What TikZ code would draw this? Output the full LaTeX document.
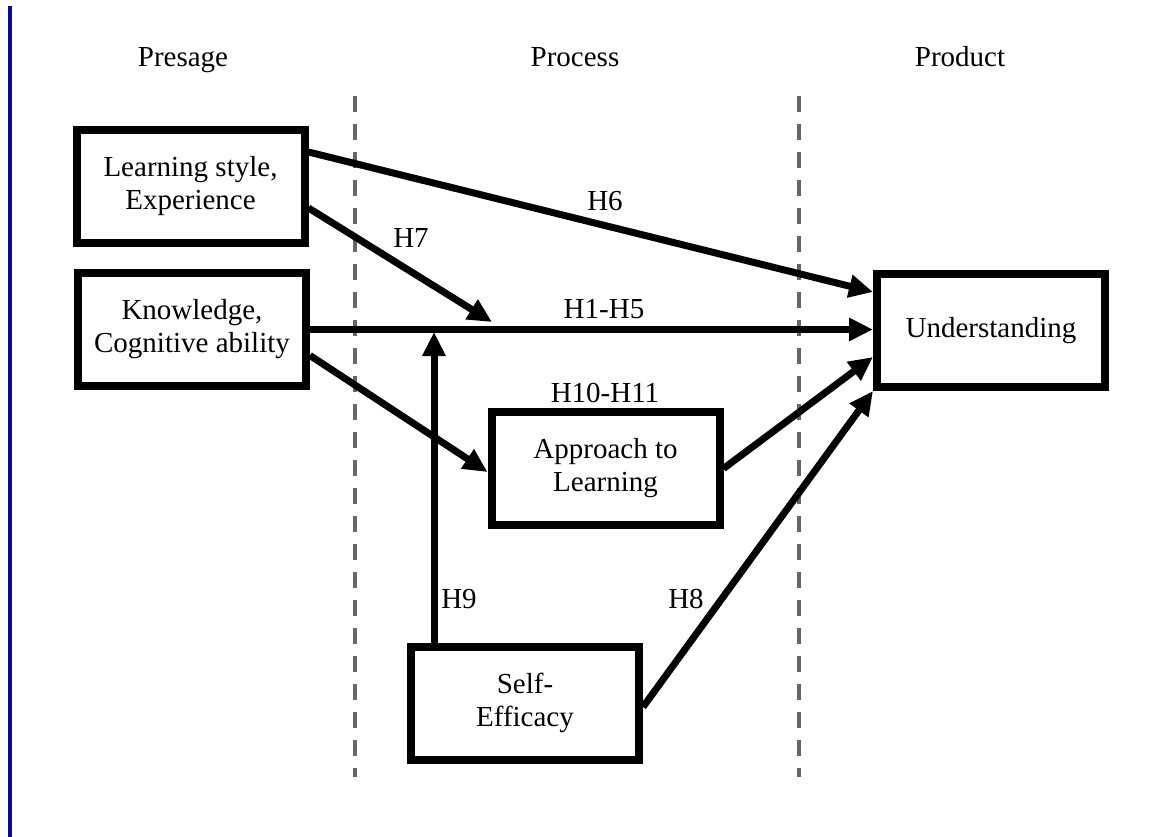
\documentclass[tikz,border=0pt]{standalone}
\usepackage{fontspec}
\setmainfont{Liberation Serif}
\usetikzlibrary{arrows.meta,calc}
\definecolor{barblue}{RGB}{10,10,140}
\definecolor{divgray}{RGB}{102,102,102}
\begin{document}
\begin{tikzpicture}[x=1pt,y=-1pt,
  every node/.style={font=\fontsize{29}{33}\selectfont},
  box/.style={draw, line width=8pt, minimum width=228pt, minimum height=113pt,
              align=center, inner sep=0pt},
  link/.style={line width=7pt, -{Triangle[length=24pt,width=22pt]}},
  divider/.style={draw=divgray, line width=4pt, dash pattern=on 16pt off 12pt},
  lbl/.style={anchor=base, inner sep=0pt}]
\useasboundingbox (0,0) rectangle (1168,837);

% margin bar
\fill[barblue] (8,6) rectangle (12,837);

% stage headings
\node[lbl] (presage) at (183,67) {Presage};
\node[lbl] (process) at (575,67) {Process};
\node[lbl] (product) at (960,67) {Product};

% stage dividers
\coordinate (d1top) at (355,96);
\coordinate (d1bot) at (355,777);
\coordinate (d2top) at (799,96);
\coordinate (d2bot) at (799,777);
\draw[divider] (d1top) -- (d1bot);
\draw[divider] (d2top) -- (d2bot);

% boxes
\node[box] (learn) at (190.5,186.5) {Learning style,\\Experience};
\node[box] (know)  at (192,329.5)   {Knowledge,\\Cognitive ability};
\node[box] (under) at (991,330.5)   {Understanding};
\node[box] (appr)  at (605.5,468.5) {Approach to\\Learning};
\node[box] (self)  at (525,703)     {Self-\\Efficacy};

% points on the H1-H5 path
\coordinate (h7end) at (492,322);
\coordinate (h9end) at (434,332);

% connectors
\draw[link] ($(learn.east)+(0,-34.5)$) -- ($(under.west)+(0,-38.5)$);
\draw[link] ($(learn.east)+(0,21.5)$) -- (h7end);
\draw[link] (know.east) -- (know.east -| under.west);
\draw[link] ($(know.east)+(0,26)$) -- ($(appr.west)+(0,3.5)$);
\draw[link] (appr.east) -- ($(under.west)+(0,26.5)$);
\draw[link] ($(self.east)+(0,4)$) -- (under.south west);
\draw[link] (h9end |- self.north) -- (h9end);

% hypothesis labels
\node[lbl] (lh6)  at (605,211) {H6};
\node[lbl] (lh7)  at (411,248) {H7};
\node[lbl] (lh15) at (604,319) {H1-H5};
\node[lbl] (lh10) at (605,402) {H10-H11};
\node[lbl] (lh9)  at (459,608) {H9};
\node[lbl] (lh8)  at (686,608) {H8};
\end{tikzpicture}
\end{document}
